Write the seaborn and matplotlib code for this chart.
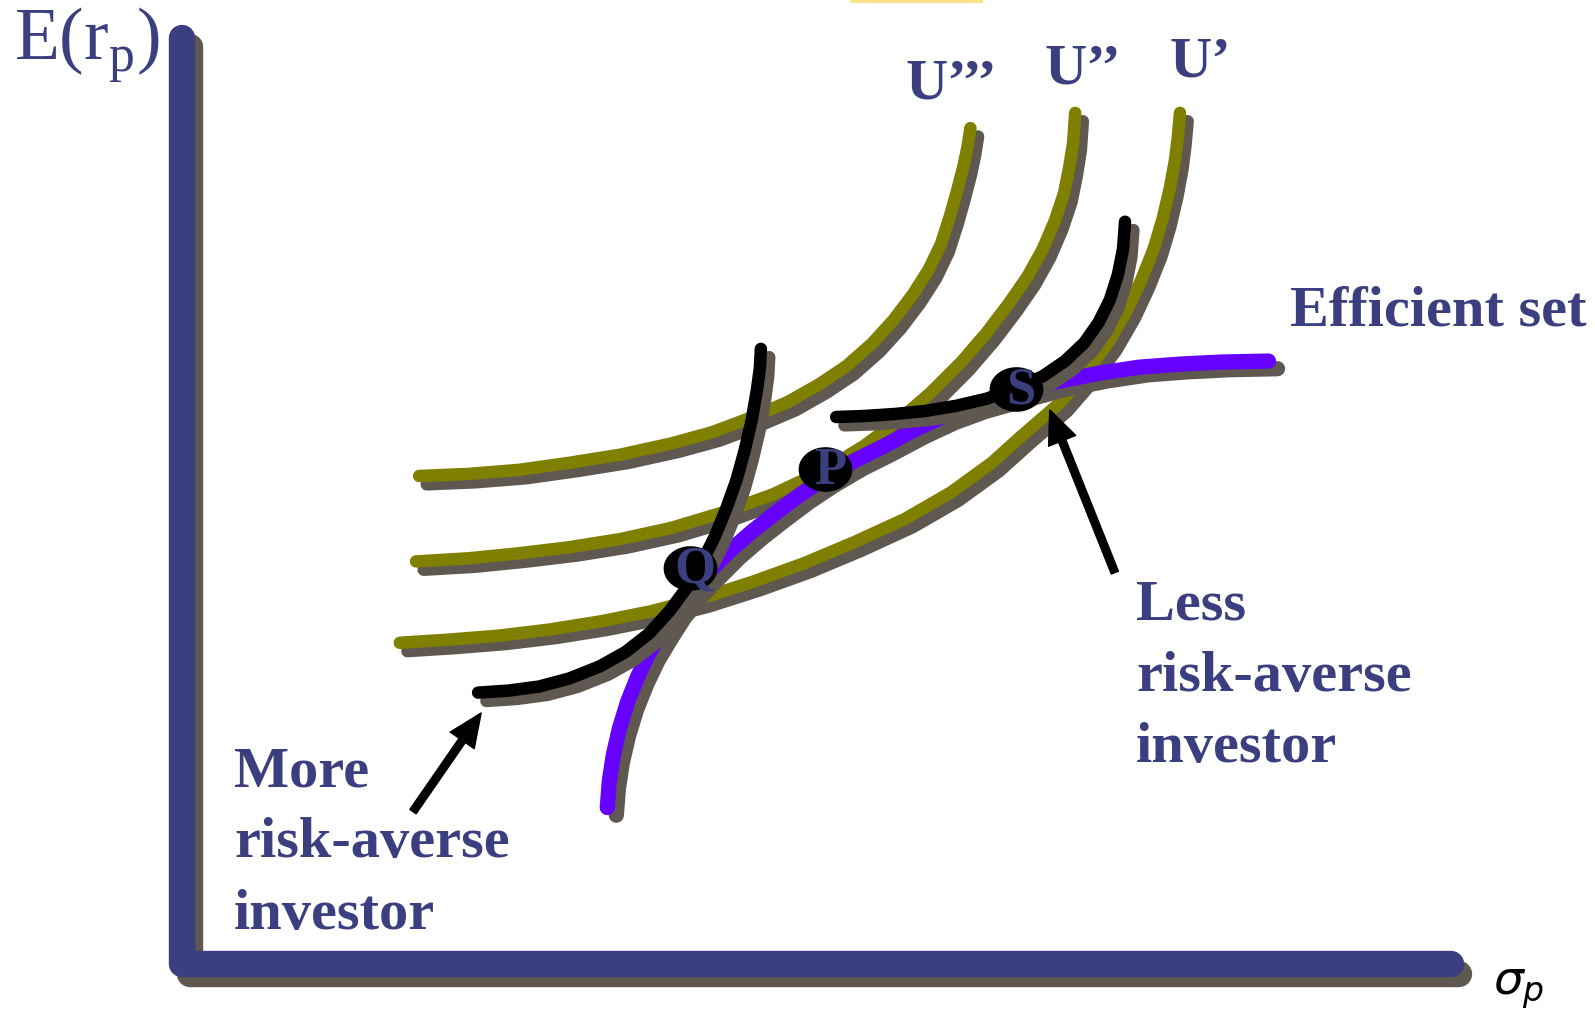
import matplotlib
matplotlib.use("Agg")
import matplotlib.pyplot as plt
import matplotlib.patheffects as pe
from matplotlib.path import Path
import numpy as np
import seaborn as sns

# ---------------- data (diagram coordinates, y grows downward) ----------------
axis_x = [179, 179, 1426]
axis_y = [37, 948, 948]

u3_x = [412, 460, 510, 560, 610, 660, 700, 740, 775, 805, 832, 857, 878, 897, 913,
        925, 934, 941, 947, 951, 954]
u3_y = [468, 466, 462, 455, 447, 436, 425, 410, 395, 378, 360, 338, 315, 290, 265,
        240, 212, 187, 164, 145, 126]

u2_x = [409, 460, 510, 560, 610, 660, 710, 760, 811, 850, 885, 915, 945, 970, 992,
        1010, 1025, 1037, 1046, 1051, 1055, 1057]
u2_y = [552, 549, 544, 538, 530, 519, 504, 486, 462, 438, 412, 386, 356, 327, 298,
        272, 245, 217, 190, 165, 140, 111]

u1_x = [393, 440, 490, 540, 590, 640, 690, 740, 790, 840, 890, 935, 975, 1005, 1042,
        1068, 1090, 1108, 1122, 1134, 1143, 1150, 1155, 1158, 1160]
u1_y = [632, 629, 625, 619, 611, 601, 588, 572, 554, 533, 510, 484, 455, 428, 396,
        366, 336, 305, 275, 245, 215, 185, 158, 134, 111]

eff_x = [597, 599, 603, 609, 617, 627, 638, 650, 664, 680, 698, 718, 740, 763, 787,
         811, 840, 870, 900, 930, 960, 999, 1040, 1080, 1120, 1160, 1200, 1247]
eff_y = [794, 768, 742, 716, 690, 665, 642, 622, 600, 580, 561, 541, 522, 504, 486,
         470, 453, 438, 422, 408, 397, 386, 375, 367, 361, 358, 356, 355]

more_x = [470, 500, 530, 560, 590, 615, 638, 658, 675, 690, 703, 714, 724, 732, 739,
          744, 747, 748]
more_y = [681, 679, 675, 667, 655, 641, 623, 601, 578, 553, 527, 500, 472, 443, 413,
          384, 362, 343]

less_x = [822, 850, 880, 910, 940, 970, 1000, 1025, 1047, 1066, 1080, 1091, 1099, 1104, 1106]
less_y = [410, 409, 407, 404, 399, 392, 381, 370, 355, 337, 317, 295, 270, 245, 218]

point_labels = ["Q", "P", "S"]
point_x = [678, 811, 999]
point_y = [558, 461, 382]

curve_labels = ["U\u2019\u2019\u2019", "U\u2019\u2019", "U\u2019"]
curve_label_x = [890, 1027, 1150]
curve_label_y = [97, 82, 75]

more_lines = ["More", "risk-averse", "investor"]
less_lines = ["Less", "risk-averse", "investor"]

strip_x = [836, 966]
strip_y = [1, 1]

# ---------------- styling ----------------
BLUE = "#3B3F7F"
SHADOW = "#5E5850"
OLIVE = "#808000"
PURPLE = "#6600FF"

sns.set_theme(style="white")
plt.rcParams["font.family"] = ["Liberation Serif", "DejaVu Serif"]

fig = plt.figure(figsize=(15.95, 10.13), dpi=100)
ax = fig.add_axes([0, 0, 1, 1])
ax.set_xlim(0, 1568)
ax.set_ylim(996, 0)
ax.axis("off")


def shadowed(x, y, color, lw, off, z):
    sns.lineplot(x=x, y=y, sort=False, estimator=None, color=color, linewidth=lw,
                 solid_capstyle="round", solid_joinstyle="round", ax=ax, zorder=z,
                 path_effects=[pe.SimpleLineShadow(offset=off, shadow_color=SHADOW, alpha=1.0),
                               pe.Normal()])


# top yellow strip (slide remnant)
ax.plot(strip_x, strip_y, color="#FCE38A", linewidth=3, solid_capstyle="butt", zorder=1)

# axes
shadowed(axis_x, axis_y, BLUE, 19, (6, -7), 2)

# indifference curves
shadowed(u3_x, u3_y, OLIVE, 9, (5.5, -6), 3)
shadowed(u2_x, u2_y, OLIVE, 9, (5.5, -6), 3)
shadowed(u1_x, u1_y, OLIVE, 9, (5.5, -6), 3)

# efficient set
shadowed(eff_x, eff_y, PURPLE, 11, (6.5, -5.5), 4)

# investor curves
shadowed(more_x, more_y, "black", 9, (6, -6), 5)
shadowed(less_x, less_y, "black", 9, (6, -6), 5)

# tangency points (ellipses)
t = np.linspace(0, 2 * np.pi, 60)
ell = Path(np.column_stack([np.cos(t), 0.83 * np.sin(t)]))
sns.scatterplot(x=point_x, y=point_y, marker=ell, s=1500, color="black",
                edgecolor="black", linewidth=0, ax=ax, zorder=6)
for lab, px, py in zip(point_labels, point_x, point_y):
    ax.text(px + 5, py + 2, lab, color=BLUE, fontsize=38, fontweight="bold",
            ha="center", va="center", zorder=7)

# curve labels
for lab, lx, ly in zip(curve_labels, curve_label_x, curve_label_y):
    ax.text(lx, ly, lab, color=BLUE, fontsize=42, fontweight="bold",
            ha="left", va="baseline", zorder=7)

ax.text(1268, 320, "Efficient set", color=BLUE, fontsize=42, fontweight="bold",
        ha="left", va="baseline", zorder=7)

for i, line in enumerate(more_lines):
    ax.text(230, 773 + 70 * i, line, color=BLUE, fontsize=42, fontweight="bold",
            ha="left", va="baseline", zorder=7)
for i, line in enumerate(less_lines):
    ax.text(1117, 609 + 70 * i, line, color=BLUE, fontsize=42, fontweight="bold",
            ha="left", va="baseline", zorder=7)

# arrows
arrow_kw = dict(facecolor="black", edgecolor="black", width=5.5, headwidth=21,
                headlength=24, shrink=0.0)
ax.annotate("", xy=(473, 701), xytext=(406, 798), arrowprops=arrow_kw, zorder=8)
ax.annotate("", xy=(1032, 403), xytext=(1096, 563), arrowprops=arrow_kw, zorder=8)

# axis titles
ax.text(14, 59, "E(r$_{\\mathregular{p}}$)", color=BLUE, fontsize=53,
        ha="left", va="baseline", zorder=7)
ax.text(1468, 978, "$\\sigma_p$", color="black", fontsize=34,
        family=["DejaVu Sans"], ha="left", va="baseline", zorder=7)

fig.savefig("out.png", dpi=100)
